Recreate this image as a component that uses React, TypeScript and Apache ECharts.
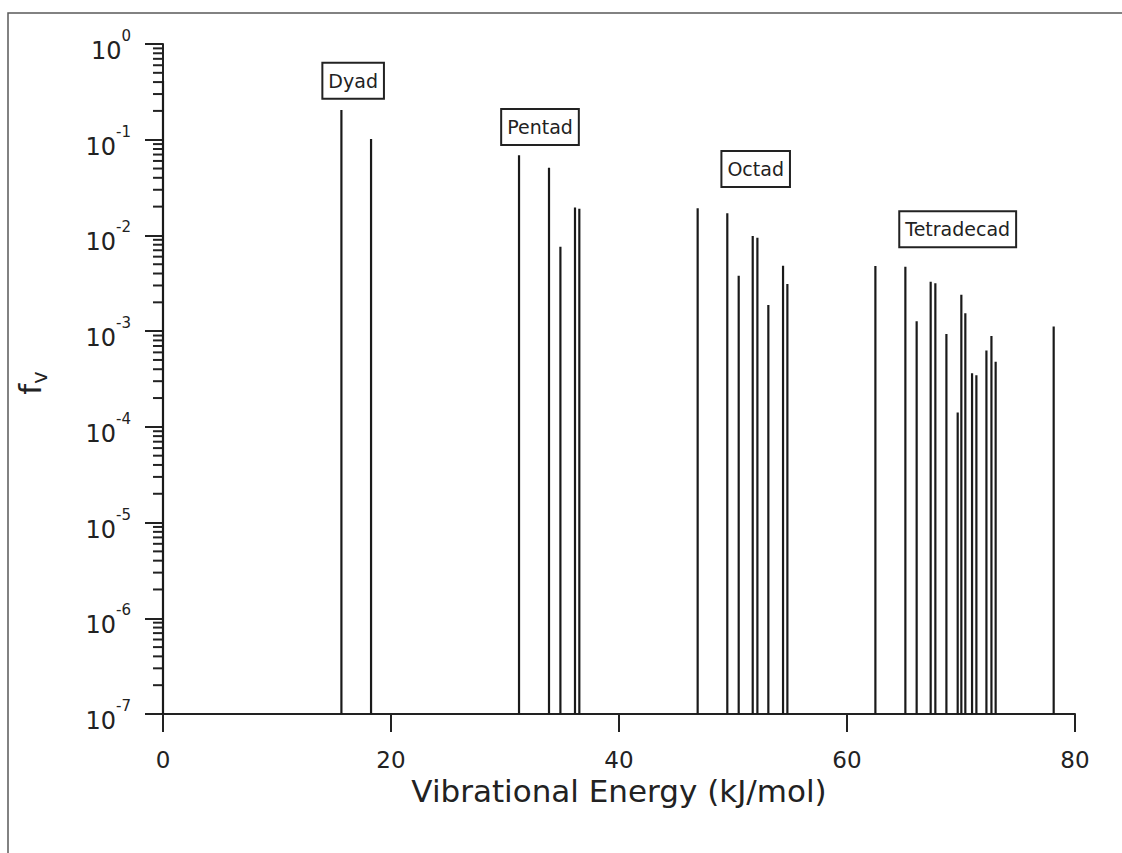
import React, { useEffect, useRef } from 'react';
import * as echarts from 'echarts';

// Line positions (kJ/mol) and vibrational population fractions f_v
const energies = [0, 15.65, 18.25, 31.23, 33.86, 34.86, 36.14, 36.52, 46.9, 49.5, 50.5, 51.73, 52.14, 53.1, 54.39, 54.77, 62.49, 65.12, 66.11, 67.34, 67.75, 68.72, 69.71, 70.03, 70.38, 70.97, 71.35, 72.23, 72.67, 73.04, 78.13];
const fv = [0.41, 0.204, 0.1016, 0.0687, 0.051, 0.0076, 0.0196, 0.019, 0.0192, 0.017, 0.0038, 0.00986, 0.00946, 0.001875, 0.00483, 0.0031, 0.00479, 0.00471, 0.00127, 0.00329, 0.00316, 0.000933, 0.000141, 0.0024, 0.00154, 0.000363, 0.000347, 0.000628, 0.00089, 0.000478, 0.00112];

// Polyad annotation boxes
const groupNames = ['Dyad', 'Pentad', 'Octad', 'Tetradecad'];
const groupX = [16.68, 33.07, 51.99, 69.71];
const groupY = [0.412, 0.136, 0.0494, 0.0116];

const X_MIN = 0;
const X_MAX = 80;
const X_INTERVAL = 20;
const Y_MIN = 1e-7;
const Y_MAX = 1;

const minorTickValues: number[] = [];
for (let e = -7; e < 0; e++) {
  for (let k = 2; k <= 9; k++) minorTickValues.push(k * Math.pow(10, e));
}

const FONT = 'DejaVu Sans';
const INK = '#222';

export default function App() {
  const ref = useRef<HTMLDivElement>(null);
  useEffect(() => {
    if (!ref.current) return;
    const chart = echarts.init(ref.current, undefined, { renderer: 'svg' });
    const option: any = {
      animation: false,
      backgroundColor: '#fff',
      textStyle: { fontFamily: FONT },
      grid: { left: 163, right: 47, top: 44, bottom: 139, containLabel: false, outerBoundsMode: 'none' },
      graphic: [
        {
          type: 'rect',
          shape: { x: 8, y: 13, width: 1200, height: 900 },
          style: { fill: 'none', stroke: '#5a5a5a', lineWidth: 1.5 },
          silent: true,
          z: -10,
        },
      ],
      xAxis: {
        type: 'value',
        min: X_MIN,
        max: X_MAX,
        interval: X_INTERVAL,
        name: 'Vibrational Energy (kJ/mol)',
        nameLocation: 'middle',
        nameGap: 61,
        nameTextStyle: { fontFamily: FONT, fontSize: 31, color: INK },
        axisLine: { show: true, onZero: false, lineStyle: { color: INK, width: 2 } },
        axisTick: { show: true, inside: false, length: 18, lineStyle: { color: INK, width: 2 } },
        axisLabel: { fontFamily: FONT, fontSize: 23, color: INK, margin: 34 },
        splitLine: { show: false },
      },
      yAxis: {
        type: 'log',
        logBase: 10,
        min: Y_MIN,
        max: Y_MAX,
        splitNumber: 7,
        name: '{f|f}{v|v}',
        nameLocation: 'middle',
        nameRotate: 90,
        nameGap: 118,
        nameTextStyle: {
          fontFamily: FONT,
          color: INK,
          padding: [0, 8, 0, 0],
          rich: {
            f: { fontFamily: FONT, fontSize: 31, lineHeight: 31, color: INK },
            v: { fontFamily: FONT, fontSize: 21, lineHeight: 21, color: INK, padding: [20, 0, 0, 0] },
          },
        },
        axisLine: { show: true, onZero: false, lineStyle: { color: INK, width: 2 } },
        axisTick: { show: true, inside: false, length: 18, lineStyle: { color: INK, width: 2 } },
        axisLabel: {
          showMinLabel: true,
          showMaxLabel: true,
          margin: 32,
          formatter: (v: number) => {
            const e = Math.round(Math.log10(v));
            return `{a|10}{b|${e}}`;
          },
          rich: {
            a: { fontFamily: FONT, fontSize: 24, lineHeight: 24, color: INK, padding: [14, 0, 0, 0] },
            b: { fontFamily: FONT, fontSize: 15, lineHeight: 15, color: INK, padding: [0, 0, 16, 0] },
          },
        },
        splitLine: { show: false },
      },
      series: [
        {
          type: 'custom',
          name: 'minor ticks',
          silent: true,
          clip: false,
          data: minorTickValues.map((v) => [X_MIN, v]),
          renderItem: (params: any, api: any) => {
            const p = api.coord([api.value(0), api.value(1)]);
            return {
              type: 'line',
              shape: { x1: p[0] - 10, y1: p[1], x2: p[0], y2: p[1] },
              style: { stroke: INK, lineWidth: 2 },
            };
          },
        },
        {
          type: 'custom',
          name: 'fv',
          clip: false,
          data: energies.map((x, i) => [x, fv[i]]),
          renderItem: (params: any, api: any) => {
            const x = api.value(0);
            const top = api.coord([x, api.value(1)]);
            const base = api.coord([x, Y_MIN]);
            return {
              type: 'line',
              shape: { x1: top[0], y1: base[1], x2: top[0], y2: top[1] },
              style: { stroke: '#1a1a1a', lineWidth: 2.2 },
            };
          },
        },
        {
          type: 'custom',
          name: 'polyads',
          silent: true,
          clip: false,
          z: 5,
          data: groupNames.map((n, i) => [groupX[i], groupY[i], i]),
          renderItem: (params: any, api: any) => {
            const p = api.coord([api.value(0), api.value(1)]);
            const name = groupNames[api.value(2)];
            return {
              type: 'text',
              x: p[0],
              y: p[1],
              style: {
                text: name,
                fontFamily: FONT,
                fontSize: 19,
                fill: INK,
                align: 'center',
                verticalAlign: 'middle',
                backgroundColor: '#fff',
                borderColor: '#222',
                borderWidth: 2,
                padding: [8, 5, 7, 5],
              },
            };
          },
        },
      ],
    };
    chart.setOption(option);
    return () => chart.dispose();
  }, []);
  return (
    <div
      ref={ref}
      style={{ position: 'fixed', left: 0, top: 0, width: 1122, height: 853, background: '#fff' }}
    />
  );
}
